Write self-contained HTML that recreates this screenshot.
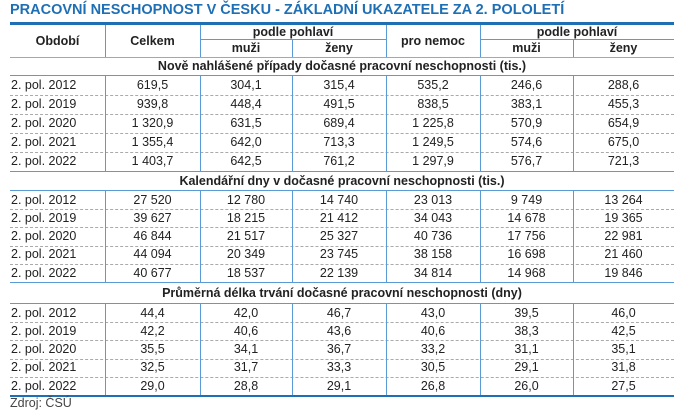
<!DOCTYPE html>
<html><head><meta charset="utf-8">
<style>
html,body{margin:0;padding:0;background:#fff;}
body{width:674px;height:415px;position:relative;overflow:hidden;font-family:"Liberation Sans Narrow","Liberation Sans",sans-serif;color:#222;}
.t{position:absolute;white-space:nowrap;font-size:12.5px;line-height:1;}
.h{font-weight:bold;}
.c{text-align:center;}
.ln{position:absolute;}
</style></head>
<body>
<div class="t h" style="left:10px;top:3px;font-size:14.5px;color:#1f6fb5;">PRACOVNÍ NESCHOPNOST V ČESKU - ZÁKLADNÍ UKAZATELE ZA 2. POLOLETÍ</div>
<div id="tbl"></div>
<div class="t" style="left:10px;top:397px;font-size:12.5px;color:#444;">Zdroj: ČSÚ</div>
<script>
const periods=["2. pol. 2012","2. pol. 2019","2. pol. 2020","2. pol. 2021","2. pol. 2022"];
const sectionTitles=["Nově nahlášené případy dočasné pracovní neschopnosti (tis.)","Kalendářní dny v dočasné pracovní neschopnosti (tis.)","Průměrná délka trvání dočasné pracovní neschopnosti (dny)"];
const sec1=[["619,5","304,1","315,4","535,2","246,6","288,6"],["939,8","448,4","491,5","838,5","383,1","455,3"],["1 320,9","631,5","689,4","1 225,8","570,9","654,9"],["1 355,4","642,0","713,3","1 249,5","574,6","675,0"],["1 403,7","642,5","761,2","1 297,9","576,7","721,3"]];
const sec2=[["27 520","12 780","14 740","23 013","9 749","13 264"],["39 627","18 215","21 412","34 043","14 678","19 365"],["46 844","21 517","25 327","40 736","17 756","22 981"],["44 094","20 349","23 745","38 158","16 698","21 460"],["40 677","18 537","22 139","34 814","14 968","19 846"]];
const sec3=[["44,4","42,0","46,7","43,0","39,5","46,0"],["42,2","40,6","43,6","40,6","38,3","42,5"],["35,5","34,1","36,7","33,2","31,1","35,1"],["32,5","31,7","33,3","30,5","29,1","31,8"],["29,0","28,8","29,1","26,8","26,0","27,5"]];
const sections=[sec1,sec2,sec3];

const T=document.getElementById('tbl');
const X=[10,105,200,292,386,480,573,674];
function line(x,y,w,h,bg,name,dash){
  const d=document.createElement('div');d.className='ln';
  
  
  d.style.cssText=`left:${x}px;top:${y}px;width:${w}px;height:${h}px;`+(dash?`border-top:1px dashed ${bg};height:0;`:`background:${bg};`);
  T.appendChild(d);
}
function text(s,x,w,y,h,name,bold,cls){
  const d=document.createElement('div');d.className='t'+(bold?' h':'');
  
  
  d.textContent=s;
  d.style.cssText=`left:${x}px;top:${y+(h-12.5)/2}px;width:${w}px;`+(cls==='c'?'text-align:center;':'');
  T.appendChild(d);
}
const blue='#5b9bd5';
// header
line(10,22,664,3,'#1f6fb5','header-top-rule');
text("Období",X[0],X[1]-X[0],25,32,'header-period',1,'c');
text("Celkem",X[1],X[2]-X[1],25,32,'header-total',1,'c');
text("podle pohlaví",X[2],X[4]-X[2],25,14,'header-by-sex',1,'c');
text("muži",X[2],X[3]-X[2],40,17,'header-men',1,'c');
text("ženy",X[3],X[4]-X[3],40,17,'header-women',1,'c');
text("pro nemoc",X[4],X[5]-X[4],25,32,'header-illness',1,'c');
text("podle pohlaví",X[5],X[7]-X[5],25,14,'header-illness-by-sex',1,'c');
text("muži",X[5],X[6]-X[5],40,17,'header-illness-men',1,'c');
text("ženy",X[6],X[7]-X[6],40,17,'header-illness-women',1,'c');
line(X[2],39,X[4]-X[2],1,blue,'header-subrule');
line(X[5],39,X[7]-X[5],1,blue,'header-subrule-2');
[1,2,4,5].forEach(i=>line(X[i],25,1,32,blue,'header-col-rule'));
line(X[3],39,1,18,blue,'header-col-rule');line(X[6],39,1,18,blue,'header-col-rule');
line(10,57,664,1,'#9ab','header-bottom-rule');
const secTop=[57,172,283];const secH=[18,18,20];const rowH=[19,18.2,18.2];
sections.forEach((rows,s)=>{
  const y0=secTop[s];
  text(sectionTitles[s],10,664,y0,secH[s],'section-title',1,'c');
  line(10,y0+secH[s],664,1,blue,'section-title-rule');
  const ry=y0+secH[s]+1;
  rows.forEach((r,i)=>{
    const y=ry+i*rowH[s];
    text(periods[i],11,90,y,rowH[s],'row-period');
    r.forEach((v,j)=>text(v,X[j+1],X[j+2]-X[j+1],y,rowH[s],'cell-value',0,'c'));
    if(i<rows.length-1) line(10,y+rowH[s],664,1,'#aaa','row-separator',true);
  });
  const yEnd=ry+rows.length*rowH[s];
  for(let k=1;k<7;k++) line(X[k],ry,1,yEnd-ry,blue,'col-rule');
  line(10,yEnd,664,s===2?2:1,s===2?'#1f6fb5':blue,'section-bottom-rule');
});
</script>
</body></html>
